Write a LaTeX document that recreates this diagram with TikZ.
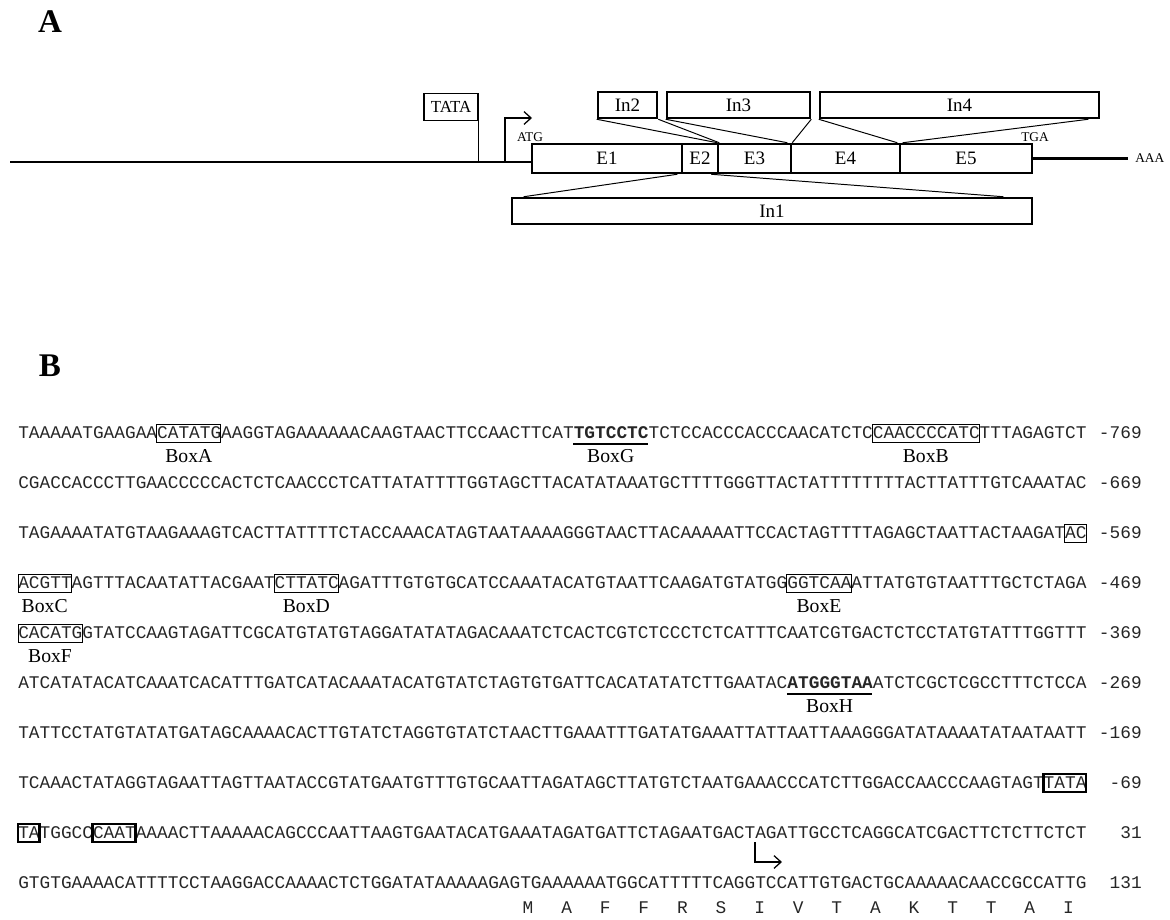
\documentclass[tikz,border=0pt]{standalone}
\usepackage{fontspec}
\setmainfont{Liberation Serif}
\newfontfamily\seqfont{Liberation Mono}
\usetikzlibrary{arrows.meta, positioning}

\newcommand\cw{10.68}
\newcommand\xo{18}
\newcommand\px{0.025cm}
% box round chars #4..#4+#5-1 of a row at height #3
\newcommand\seqbox[5]{\node[#1, minimum width={#5*\cw*\px}] (#2) at ({\xo+\cw*(#4+#5/2)},#3) {};}

\begin{document}
\begin{tikzpicture}[x=0.025cm, y=-0.025cm,
  panel/.style={inner sep=0pt, font=\fontsize{23.5}{26}\selectfont\bfseries},
  gene/.style={line width=1.8pt},
  exon/.style={rectangle, draw, line width=1.8pt, fill=white, inner sep=0pt,
               minimum height=29*\px, font=\fontsize{13.5}{15}\selectfont},
  intron/.style={exon, minimum height=26*\px},
  link/.style={line width=0.7pt},
  site/.style={inner sep=0pt, font=\fontsize{9.5}{11}\selectfont},
  tatabox/.style={rectangle, draw, line width=0.8pt, inner sep=0pt,
                  minimum width=54*\px, minimum height=27*\px, font=\fontsize{12}{14}\selectfont},
  bent/.style={line width=0.9pt, -{Straight Barb[length=5pt, width=9pt]}},
  seq/.style={anchor=west, inner sep=0pt, text=black!85, font=\seqfont\fontsize{12.66}{14}\selectfont},
  num/.style={seq, anchor=east},
  sbox/.style={rectangle, draw, line width=0.7pt, inner sep=0pt, minimum height=18*\px},
  tbox/.style={sbox, line width=2pt},
  lbl/.style={inner sep=0pt, font=\fontsize{14}{16}\selectfont},
  uline/.style={line width=1.3pt}
]
\useasboundingbox (0,0) rectangle (1170,920);

% ---- panel A: gene structure
\node[panel] (labelA) at (50,22) {A};

\node[tatabox] (tata) at (451,107) {TATA};

\node[exon, minimum width=150*\px] (e1) at (607,158.5) {E1};
\node[exon, minimum width=36*\px]  (e2) at (700,158.5) {E2};
\node[exon, minimum width=73*\px]  (e3) at (754.5,158.5) {E3};
\node[exon, minimum width=109*\px] (e4) at (845.5,158.5) {E4};
\node[exon, minimum width=132*\px] (e5) at (966,158.5) {E5};

\node[intron, minimum width=520*\px] (in1) at (772,211) {In1};
\node[intron, minimum width=59*\px]  (in2) at (627.5,105) {In2};
\node[intron, minimum width=143*\px] (in3) at (738.5,105) {In3};
\node[intron, minimum width=279*\px] (in4) at (959.5,105) {In4};

\coordinate (start) at (10,162);
\draw[gene] (start) -- (start -| e1.west);
\draw[link] (tata.south east) -- (tata.south east |- start);
\coordinate (tss) at (505,162);
\coordinate (atgend) at (532,118);
\draw[bent] (tss) |- (atgend);
\node[site] (atg) at (530,137) {ATG};
\node[site] (tga) at (1035,137) {TGA};
\coordinate (polyA) at (1128,158.5);
\draw[gene] (e5.east) -- (polyA);
\node[site, anchor=west] (aaa) at (1135,158.5) {AAA};

% splice lines
\draw[link] ([xshift=13*\px]in1.north west) -- ([xshift=-6*\px]e1.south east);
\draw[link] ([xshift=-8*\px]e2.south east) -- ([xshift=-30*\px]in1.north east);
\draw[link] (in2.south west) -- ([xshift=-2*\px]e2.north east);
\draw[link] (in2.south east) -- (e2.north east);
\draw[link] (in3.south west) -- ([xshift=-5*\px]e3.north east);
\draw[link] (in3.south east) -- (e3.north east);
\draw[link] (in4.south west) -- ([xshift=-4*\px]e4.north east);
\draw[link] ([xshift=-12*\px]in4.south east) -- ([xshift=4*\px]e5.north west);

% ---- panel B: promoter sequence
\node[panel] (labelB) at (50,366) {B};

\node[seq] (r1) at (\xo,433) {TAAAAATGAAGAACATATGAAGGTAGAAAAAACAAGTAACTTCCAACTTCAT\textbf{TGTCCTC}TCTCCACCCACCCAACATCTCCAACCCCATCTTTAGAGTCT};
\node[seq] (r2) at (\xo,483) {CGACCACCCTTGAACCCCCACTCTCAACCCTCATTATATTTTGGTAGCTTACATATAAATGCTTTTGGGTTACTATTTTTTTTACTTATTTGTCAAATAC};
\node[seq] (r3) at (\xo,533) {TAGAAAATATGTAAGAAAGTCACTTATTTTCTACCAAACATAGTAATAAAAGGGTAACTTACAAAAATTCCACTAGTTTTAGAGCTAATTACTAAGATAC};
\node[seq] (r4) at (\xo,583) {ACGTTAGTTTACAATATTACGAATCTTATCAGATTTGTGTGCATCCAAATACATGTAATTCAAGATGTATGGGGTCAAATTATGTGTAATTTGCTCTAGA};
\node[seq] (r5) at (\xo,633) {CACATGGTATCCAAGTAGATTCGCATGTATGTAGGATATATAGACAAATCTCACTCGTCTCCCTCTCATTTCAATCGTGACTCTCCTATGTATTTGGTTT};
\node[seq] (r6) at (\xo,683) {ATCATATACATCAAATCACATTTGATCATACAAATACATGTATCTAGTGTGATTCACATATATCTTGAATAC\textbf{ATGGGTAA}ATCTCGCTCGCCTTTCTCCA};
\node[seq] (r7) at (\xo,733) {TATTCCTATGTATATGATAGCAAAACACTTGTATCTAGGTGTATCTAACTTGAAATTTGATATGAAATTATTAATTAAAGGGATATAAAATATAATAATT};
\node[seq] (r8) at (\xo,783) {TCAAACTATAGGTAGAATTAGTTAATACCGTATGAATGTTTGTGCAATTAGATAGCTTATGTCTAATGAAACCCATCTTGGACCAACCCAAGTAGTTATA};
\node[seq] (r9) at (\xo,833) {TATGGCCCAATAAAACTTAAAAACAGCCCAATTAAGTGAATACATGAAATAGATGATTCTAGAATGACTAGATTGCCTCAGGCATCGACTTCTCTTCTCT};
\node[seq] (r10) at (\xo,883) {GTGTGAAAACATTTTCCTAAGGACCAAAACTCTGGATATAAAAAGAGTGAAAAAATGGCATTTTTCAGGTCCATTGTGACTGCAAAAACAACCGCCATTG};

\node[num] (n1) at (1142,433) {-769};
\node[num] (n2) at (1142,483) {-669};
\node[num] (n3) at (1142,533) {-569};
\node[num] (n4) at (1142,583) {-469};
\node[num] (n5) at (1142,633) {-369};
\node[num] (n6) at (1142,683) {-269};
\node[num] (n7) at (1142,733) {-169};
\node[num] (n8) at (1142,783) {-69};
\node[num] (n9) at (1142,833) {31};
\node[num] (n10) at (1142,883) {131};

% motif boxes
\seqbox{sbox}{boxA}{433}{13}{6}
\seqbox{sbox}{boxB}{433}{80}{10}
\seqbox{sbox}{boxCa}{533}{98}{2}
\seqbox{sbox}{boxC}{583}{0}{5}
\seqbox{sbox}{boxD}{583}{24}{6}
\seqbox{sbox}{boxE}{583}{72}{6}
\seqbox{sbox}{boxF}{633}{0}{6}
\seqbox{tbox}{tataA}{783}{96}{4}
\seqbox{tbox}{tataB}{833}{0}{2}
\seqbox{tbox}{caat}{833}{7}{4}

\draw[uline] ({\xo+\cw*52},444) -- ({\xo+\cw*59},444);
\draw[uline] ({\xo+\cw*72},694) -- ({\xo+\cw*80},694);

\node[lbl] (labA) at (boxA |- 0,456) {BoxA};
\node[lbl] (labG) at ({\xo+\cw*55.5},456) {BoxG};
\node[lbl] (labB) at (boxB |- 0,456) {BoxB};
\node[lbl] (labC) at (boxC |- 0,606) {BoxC};
\node[lbl] (labD) at (boxD |- 0,606) {BoxD};
\node[lbl] (labE) at (boxE |- 0,606) {BoxE};
\node[lbl] (labF) at (boxF |- 0,656) {BoxF};
\node[lbl] (labH) at ({\xo+\cw*76},706) {BoxH};

% transcription start
\coordinate (tsb) at (755,842);
\coordinate (tsbend) at (782,862);
\draw[bent] (tsb) |- (tsbend);

% translation
\foreach \aa [count=\i from 0] in {M,A,F,F,R,S,I,V,T,A,K,T,T,A,I}
  \node[seq, anchor=center] (aa\i) at ({528+38.6*\i},908) {\aa};
\end{tikzpicture}
\end{document}
